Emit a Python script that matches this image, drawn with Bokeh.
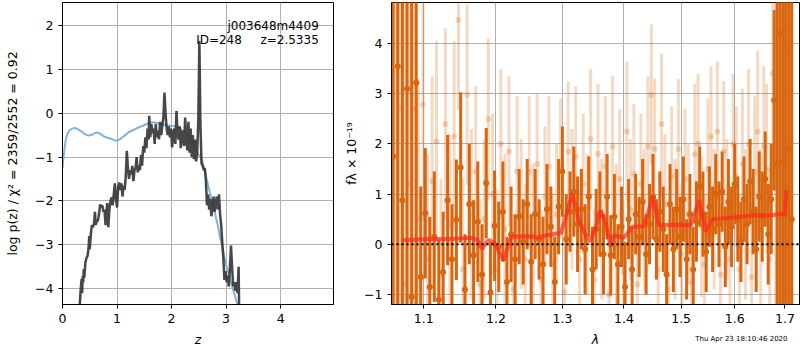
import numpy as np
from bokeh.plotting import figure
from bokeh.layouts import row
from bokeh.models import Range1d, FixedTicker, PrintfTickFormatter, Label, Span
from bokeh.embed import file_html
from bokeh.resources import INLINE

FONT = "DejaVu Sans"

# ---------------- left panel: log p(z) ----------------
z_pz = [0.305, 0.32, 0.335, 0.35, 0.36, 0.37, 0.38, 0.39, 0.40, 0.42, 0.44, 0.46, 0.48, 0.49, 0.50,
        0.52, 0.54, 0.56, 0.58, 0.595, 0.61, 0.63, 0.65, 0.67, 0.69, 0.71, 0.73, 0.75, 0.77, 0.79,
        0.80, 0.82, 0.84, 0.86, 0.88, 0.90, 0.92, 0.94, 0.96, 0.98, 1.00, 1.02, 1.04, 1.06, 1.08,
        1.10, 1.12, 1.14, 1.16, 1.18, 1.20, 1.22, 1.24, 1.26, 1.28, 1.30, 1.32, 1.34, 1.36, 1.38,
        1.40, 1.42, 1.44, 1.46, 1.48, 1.50, 1.52, 1.54, 1.56, 1.58, 1.59, 1.61, 1.63, 1.65, 1.67,
        1.69, 1.71, 1.73, 1.75, 1.77, 1.79, 1.81, 1.83, 1.85, 1.87, 1.89, 1.91, 1.93, 1.95, 1.97,
        1.99, 2.01, 2.03, 2.05, 2.07, 2.09, 2.11, 2.13, 2.15, 2.17, 2.19, 2.21, 2.23, 2.25, 2.27,
        2.29, 2.31, 2.33, 2.35, 2.37, 2.39, 2.41, 2.43, 2.45, 2.47, 2.49, 2.51, 2.53, 2.55, 2.57,
        2.59, 2.61, 2.63, 2.65, 2.67, 2.69, 2.71, 2.73, 2.75, 2.77, 2.79, 2.81, 2.83, 2.85, 2.87,
        2.89, 2.91, 2.93, 2.95, 2.97, 2.99, 3.01, 3.03, 3.05, 3.07, 3.09, 3.11, 3.13, 3.15, 3.17,
        3.19, 3.21, 3.23, 3.24]
logp = [-4.5, -4.3, -4.0, -3.78, -4.1, -3.72, -3.85, -3.55, -3.75, -3.4, -3.3, -3.25, -3.05, -2.8, -3.1,
        -2.75, -2.55, -2.6, -2.5, -2.25, -2.55, -2.45, -2.45, -2.3, -2.08, -2.15, -2.1, -2.25, -2.2, -2.55,
        -2.35, -2.05, -2.6, -2.2, -2.0, -1.92, -2.1, -1.85, -1.6, -1.95, -2.15, -1.7, -1.58, -1.75, -1.6,
        -1.9, -1.65, -1.75, -1.45, -0.86, -1.25, -1.5, -1.3, -1.4, -1.2, -1.55, -1.3, -1.25, -1.0, -1.35,
        -1.2, -1.3, -0.95, -1.2, -0.75, -0.9, -0.55, -0.8, -0.35, -0.6, -0.06, -0.55, -0.25, -0.45, -0.35,
        -0.7, -0.25, -0.55, -0.4, -0.6, -0.2, -0.5, -0.3, -0.1, 0.47, 0.0, -0.35, -0.5, -0.3, -0.55,
        -0.35, -0.78, -0.5, -0.35, -0.7, 0.05, -0.45, -0.6, -0.3, -0.8, -0.4, -0.55, -0.75, -0.1, -0.6,
        -0.85, -0.2, -0.9, -0.35, -1.0, -0.5, -1.05, -0.6, -1.1, -0.9, -0.2, 1.64, -0.3, -1.15, -1.2,
        -1.3, -1.25, -1.55, -2.1, -1.85, -2.2, -1.95, -2.35, -2.15, -1.9, -2.25, -2.05, -1.9, -2.2, -1.85,
        -2.3, -2.55, -2.95, -3.3, -3.8, -3.6, -3.85, -3.7, -3.95, -3.55, -3.02, -3.5, -3.95, -3.85, -4.05,
        -3.85, -4.1, -3.5, -4.5]

z_prior = [0.0, 0.02, 0.04, 0.06, 0.09, 0.13, 0.18, 0.23, 0.29, 0.35, 0.41, 0.47, 0.53, 0.59, 0.64,
           0.70, 0.76, 0.82, 0.88, 0.94, 1.00, 1.05, 1.10, 1.16, 1.22, 1.29, 1.37, 1.45, 1.52, 1.58,
           1.64, 1.72, 1.80, 1.88, 1.98, 2.06, 2.14, 2.22, 2.28, 2.34, 2.39, 2.43, 2.50, 2.56, 2.61,
           2.65, 2.70, 2.75, 2.80, 2.85, 2.89, 2.94, 2.98, 3.03, 3.07, 3.11, 3.15, 3.19, 3.23]
logp_prior = [-1.25, -1.0, -0.78, -0.6, -0.47, -0.39, -0.35, -0.34, -0.37, -0.42, -0.48, -0.51, -0.50, -0.46, -0.44,
              -0.48, -0.53, -0.56, -0.58, -0.61, -0.63, -0.60, -0.55, -0.49, -0.43, -0.39, -0.34, -0.30, -0.26, -0.23,
              -0.21, -0.22, -0.25, -0.27, -0.29, -0.30, -0.34, -0.41, -0.47, -0.56, -0.68, -0.82, -0.95, -1.08, -1.30,
              -1.54, -1.80, -2.05, -2.30, -2.57, -2.83, -3.10, -3.36, -3.58, -3.77, -3.95, -4.11, -4.28, -4.45]

z_ticks = [0, 1, 2, 3, 4]
logp_ticks = [-4, -3, -2, -1, 0, 1, 2]
logp_tick_labels = ["\u22124", "\u22123", "\u22122", "\u22121", "0", "1", "2"]
obj_name = "j003648m4409"
obj_id = "ID=248"
obj_z = "z=2.5335"
ylab_left = "log p(z) / \u03c7\u00b2 = 2359/2552 = 0.92"

# ---------------- right panel: spectrum ----------------
wave_bin = [1.060, 1.066, 1.072, 1.078, 1.084, 1.090, 1.096, 1.102, 1.108, 1.114, 1.120, 1.126, 1.132, 1.138,
            1.144, 1.150, 1.156, 1.162, 1.168, 1.174, 1.180, 1.186, 1.192, 1.198, 1.204, 1.210, 1.216, 1.222,
            1.228, 1.234, 1.240, 1.246, 1.252, 1.258, 1.264, 1.270, 1.276, 1.282, 1.288, 1.294, 1.300, 1.306,
            1.312, 1.318, 1.324, 1.330, 1.336, 1.342, 1.348, 1.354, 1.360, 1.366, 1.372, 1.378, 1.384, 1.390,
            1.396, 1.402, 1.408, 1.414, 1.420, 1.426, 1.432, 1.438, 1.444, 1.450, 1.456, 1.462, 1.468, 1.474,
            1.480, 1.486, 1.492, 1.498, 1.504, 1.510, 1.516, 1.522, 1.528, 1.534, 1.540, 1.546, 1.552, 1.558,
            1.564, 1.570, 1.576, 1.582, 1.588, 1.594, 1.600, 1.606, 1.612, 1.618, 1.624, 1.630, 1.636, 1.642,
            1.648, 1.654, 1.660, 1.666, 1.672, 1.678, 1.684, 1.690, 1.696, 1.702, 1.708, 1.714]
flux_bin = [1.75, 3.55, 0.88, 3.10, -1.05, 3.22, -0.65, 0.62, -0.85, 0.15, -1.1, -0.55, 0.88, -0.3,
            0.49, 1.53, -0.9, 0.8, -0.22, 0.45, -0.6, 1.22, -0.96, 0.37, -0.05, 0.65, -0.75, 0.2,
            -0.3, 0.55, 0.05, 0.8, -0.35, 0.6, 0.1, -0.4, 0.7, 0.35, -0.75, 0.75, 1.45, 0.1,
            0.65, 1.05, 0.4, 0.7, -0.1, 0.95, -0.5, 0.3, 0.6, -0.2, 0.95, -0.22, 0.55, -0.4,
            0.35, -0.85, 0.5, -0.5, 0.6, 0.15, 0.85, -0.2, 0.4, 0.95, 0.1, 0.65, 0.3, -0.6,
            0.8, -0.1, 0.7, 0.15, 0.9, -0.3, 0.6, -0.5, 0.45, 1.15, 0.6, -0.15, 0.75, 0.3,
            1.0, 0.4, 1.05, -0.05, 0.85, 0.35, 1.2, 0.5, 0.05, 0.9, 0.4, 1.25, 0.65, -0.1,
            0.95, 0.55, 1.3, 0.2, 0.9, 2.87, 1.6, 4.2, 1.65, 0.6, 1.9, 0.5]
err_bin = [9, 9, 9, 9, 9, 9, 1.8, 1.3, 1.4, 1.3, 1.2, 1.2, 1.3, 1.1,
           1.2, 1.5, 1.1, 1.2, 1.1, 1.2, 1.0, 1.1, 1.0, 1.1, 0.9, 1.0, 0.9, 0.95,
           0.9, 0.95, 0.85, 0.9, 0.95, 0.9, 0.8, 0.95, 0.9, 0.8, 0.9, 0.95, 0.9, 0.9,
           0.8, 0.9, 0.95, 0.8, 0.9, 0.8, 0.85, 0.8, 0.85, 0.8, 0.85, 0.8, 0.85, 0.8,
           0.8, 0.9, 0.8, 0.85, 0.8, 0.8, 0.85, 0.8, 0.8, 0.85, 0.8, 0.8, 0.85, 0.8,
           0.8, 0.85, 0.8, 0.8, 0.85, 0.8, 0.8, 0.85, 0.8, 0.8, 0.85, 0.8, 0.8, 0.85,
           0.8, 0.85, 0.8, 0.8, 0.85, 0.8, 0.8, 0.85, 0.8, 0.85, 0.8, 0.85, 0.85, 0.85,
           0.9, 0.9, 0.95, 1.0, 1.1, 1.8, 9, 9, 9, 9, 9, 9]

wave_raw = [1.063, 1.069, 1.075, 1.081, 1.087, 1.093, 1.099, 1.105, 1.111, 1.117, 1.123, 1.129, 1.135, 1.141,
            1.147, 1.153, 1.159, 1.165, 1.171, 1.177, 1.183, 1.189, 1.195, 1.201, 1.207, 1.213, 1.219, 1.225,
            1.231, 1.237, 1.243, 1.249, 1.255, 1.261, 1.267, 1.273, 1.279, 1.285, 1.291, 1.297, 1.303, 1.309,
            1.315, 1.321, 1.327, 1.333, 1.339, 1.345, 1.351, 1.357, 1.363, 1.369, 1.375, 1.381, 1.387, 1.393,
            1.399, 1.405, 1.411, 1.417, 1.423, 1.429, 1.435, 1.441, 1.447, 1.453, 1.459, 1.465, 1.471, 1.477,
            1.483, 1.489, 1.495, 1.501, 1.507, 1.513, 1.519, 1.525, 1.531, 1.537, 1.543, 1.549, 1.555, 1.561,
            1.567, 1.573, 1.579, 1.585, 1.591, 1.597, 1.603, 1.609, 1.615, 1.621, 1.627, 1.633, 1.639, 1.645,
            1.651, 1.657, 1.663, 1.669, 1.675, 1.681, 1.687, 1.693, 1.699, 1.705, 1.711]
flux_raw = [1.75, 2.7, -0.8, 1.2, 2.7, 0.5, 2.78, -0.3, 1.25, 2.05, -0.6, 2.4, 0.4, 2.15,
            4.47, -0.5, 2.98, 0.6, 1.45, -0.8, 0.5, 2.5, 1.0, -0.5, 2.0, 0.3, 1.85, -0.9,
            1.45, 0.6, -0.3, 1.45, 0.2, 1.6, -0.7, 0.95, 1.55, -0.4, 0.6, 1.5, -0.95, 1.85,
            0.9, 1.75, -0.3, 1.2, 0.4, 2.1, -0.7, 1.8, 0.3, 1.55, -1.0, 1.95, 0.2, 1.3,
            -0.55, 2.25, 0.7, 1.4, -0.8, 1.2, 0.5, 1.95, 2.98, 1.9, -0.5, 2.4, 0.8, -0.9,
            1.35, 0.3, 1.9, -0.2, 1.3, 0.6, -0.75, 1.8, 2.0, 0.35, -0.4, 1.5, 2.15, 0.5,
            2.25, -0.6, 1.85, 0.7, -0.3, 2.0, 1.35, -0.5, 1.6, 0.4, 2.0, -0.65, 1.45, 2.25,
            0.3, 1.95, 1.5, -0.3, 3.4, 2.2, 4.0, 3.1, 4.3, 3.8, 1.6]
err_raw = [9, 9, 9, 9, 9, 2.8, 2.3, 2.1, 2.1, 2.0, 1.9, 1.9, 1.8, 1.9,
           1.8, 1.8, 1.8, 1.7, 1.7, 1.7, 1.6, 1.6, 1.6, 1.6, 1.5, 1.5, 1.5, 1.5,
           1.5, 1.5, 1.5, 1.5, 1.4, 1.4, 1.4, 1.4, 1.4, 1.4, 1.4, 1.4, 1.4, 1.4,
           1.4, 1.4, 1.4, 1.4, 1.4, 1.4, 1.4, 1.4, 1.4, 1.4, 1.4, 1.4, 1.4, 1.4,
           1.4, 1.4, 1.4, 1.4, 1.4, 1.4, 1.4, 1.4, 1.4, 1.4, 1.4, 1.4, 1.4, 1.4,
           1.4, 1.4, 1.4, 1.4, 1.4, 1.4, 1.4, 1.4, 1.4, 1.4, 1.4, 1.4, 1.4, 1.4,
           1.4, 1.4, 1.4, 1.4, 1.4, 1.4, 1.4, 1.5, 1.5, 1.5, 1.5, 1.5, 1.5, 1.6,
           1.6, 1.6, 1.7, 1.8, 2.3, 9, 9, 9, 9, 9, 9]

wave_model = [1.072, 1.096, 1.141, 1.1637, 1.1735, 1.180, 1.189, 1.198, 1.211, 1.222, 1.251, 1.2618, 1.281,
              1.298, 1.3157, 1.326, 1.342, 1.350, 1.3616, 1.3685, 1.378, 1.3825, 1.400, 1.4144, 1.4344,
              1.450, 1.4605, 1.4933, 1.5175, 1.533, 1.545, 1.558, 1.5924, 1.6247, 1.671, 1.700, 1.703]
flux_model = [0.08, 0.10, 0.11, 0.13, 0.09, -0.09, 0.09, 0.02, -0.32, 0.15, 0.16, 0.14, 0.19,
              0.23, 1.01, 0.48, 0.05, 0.21, 0.68, 0.48, -0.05, 0.18, 0.13, 0.35, 0.36,
              0.96, 0.38, 0.39, 0.38, 0.88, 0.25, 0.50, 0.53, 0.57, 0.58, 0.61, 1.08]

wave_ticks = [1.1, 1.2, 1.3, 1.4, 1.5, 1.6, 1.7]
flux_ticks = [-1, 0, 1, 2, 3, 4]
flux_tick_labels = ["\u22121", "0", "1", "2", "3", "4"]
xlab_right = "\u03bb"
ylab_right = "f\u03bb \u00d7 10\u207b\u00b9\u2079"
timestamp = "Thu Apr 23 18:10:46 2020"

ORANGE = "#d9660f"


def style(p):
    p.outline_line_color = "black"
    p.outline_line_width = 1
    p.outline_line_alpha = 1
    p.background_fill_color = "white"
    p.border_fill_color = "white"
    for ax in p.axis:
        ax.axis_line_color = "black"
        ax.major_tick_line_color = "black"
        ax.major_tick_out = 4
        ax.major_tick_in = 0
        ax.minor_tick_line_color = None
        ax.major_label_text_font = FONT
        ax.major_label_text_font_size = "12.5px"
        ax.major_label_text_color = "black"
        ax.axis_label_text_font = FONT
        ax.axis_label_text_font_size = "12.5px"
        ax.axis_label_text_color = "black"
    p.grid.grid_line_color = "#b0b0b0"
    p.grid.grid_line_width = 1
    p.grid.grid_line_alpha = 1


# ---- left figure
p1 = figure(width=340, height=350, x_range=Range1d(0, 4.97), y_range=Range1d(-4.36, 2.52),
            output_backend="svg", toolbar_location=None,
            min_border_left=62, min_border_right=7, min_border_top=2, min_border_bottom=46)
style(p1)
p1.xaxis.ticker = FixedTicker(ticks=z_ticks)
p1.yaxis.ticker = FixedTicker(ticks=logp_ticks)
p1.xgrid.ticker = FixedTicker(ticks=z_ticks)
p1.ygrid.ticker = FixedTicker(ticks=logp_ticks)
p1.yaxis.major_label_overrides = dict(zip(logp_ticks, logp_tick_labels))
p1.xaxis.axis_label = "z"
p1.xaxis.axis_label_text_font_style = "italic"
p1.xaxis.axis_label_standoff = 6
p1.yaxis.axis_label = ylab_left
p1.yaxis.axis_label_text_font_style = "normal"
p1.yaxis.axis_label_standoff = 12

p1.line(z_prior, logp_prior, line_color="#80b4da", line_width=2)
p1.line(z_pz, logp, line_color="#333333", line_width=2.5, line_alpha=0.9)

p1.add_layout(Label(x=4.70, y=1.98, text=obj_name, text_align="right", text_baseline="alphabetic",
                    text_font=FONT, text_font_size="12px", text_color="black"))
p1.add_layout(Label(x=4.70, y=1.66, text=obj_z, text_align="right", text_baseline="alphabetic",
                    text_font=FONT, text_font_size="12px", text_color="black"))
p1.add_layout(Label(x=3.29, y=1.66, text=obj_id, text_align="right", text_baseline="alphabetic",
                    text_font=FONT, text_font_size="12px", text_color="black"))

# ---- right figure
p2 = figure(width=460, height=350, x_axis_type="log", x_range=Range1d(1.058, 1.730),
            y_range=Range1d(-1.2, 4.82), output_backend="svg", toolbar_location=None,
            min_border_left=51, min_border_right=1, min_border_top=2, min_border_bottom=46)
style(p2)
p2.xaxis.ticker = FixedTicker(ticks=wave_ticks)
p2.xgrid.ticker = FixedTicker(ticks=wave_ticks)
p2.yaxis.ticker = FixedTicker(ticks=flux_ticks)
p2.ygrid.ticker = FixedTicker(ticks=flux_ticks)
p2.xaxis.formatter = PrintfTickFormatter(format="%.1f")
p2.yaxis.major_label_overrides = dict(zip(flux_ticks, flux_tick_labels))
p2.yaxis.axis_label = ylab_right
p2.yaxis.axis_label_text_font_style = "normal"
p2.yaxis.axis_label_standoff = 2

wr = np.array(wave_raw); fr = np.array(flux_raw); er = np.array(err_raw)
wb = np.array(wave_bin); fb = np.array(flux_bin); eb = np.array(err_bin)

p2.segment(x0=wr, y0=fr - er, x1=wr, y1=fr + er, line_color=ORANGE, line_alpha=0.25, line_width=3)
p2.scatter(wr, fr, size=6, fill_color=ORANGE, fill_alpha=0.25, line_color=None)
p2.segment(x0=wb, y0=fb - eb, x1=wb, y1=fb + eb, line_color=ORANGE, line_alpha=1.0, line_width=3)
p2.scatter(wb, fb, size=6, fill_color=ORANGE, fill_alpha=1.0, line_color=None)

p2.line(wave_model, flux_model, line_color="#ff2a1a", line_alpha=0.7, line_width=4)
p2.add_layout(Span(location=0, dimension="width", line_color="black", line_width=2,
                   line_dash="2 3"))

# x-axis label and timestamp drawn in the bottom border panels (not clipped by the frame)
p2.add_layout(Label(x=204, y=1, x_units="screen", y_units="screen", text=xlab_right,
                    text_align="center", text_baseline="middle", text_font=FONT,
                    text_font_style="italic", text_font_size="12.5px", text_color="black"), "below")
p2.add_layout(Label(x=396, y=10, x_units="screen", y_units="screen", text=timestamp,
                    text_align="right", text_baseline="middle", text_font=FONT,
                    text_font_size="7px", text_color="black"), "below")

layout = row(p1, p2)
open("out.html", "w").write(file_html(layout, INLINE))
